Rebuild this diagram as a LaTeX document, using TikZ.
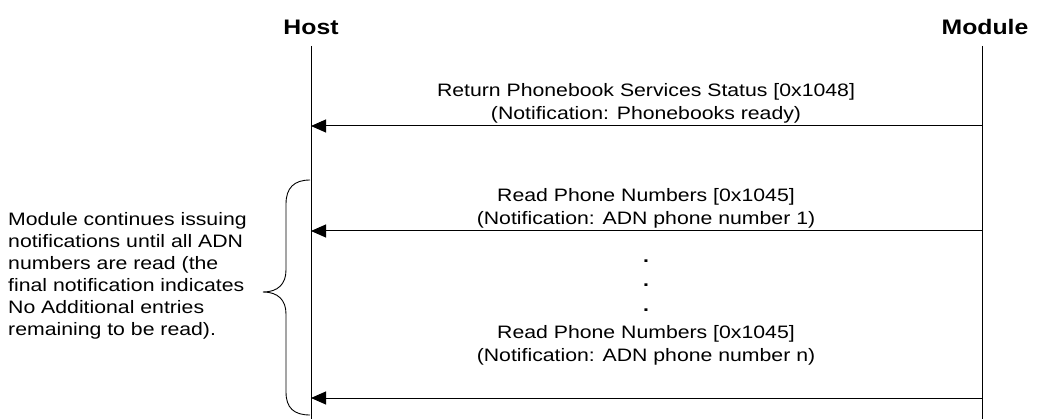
\documentclass[tikz,border=0pt]{standalone}
\usepackage{fontspec}
\setmainfont{Liberation Sans}[FakeStretch=1.18]
\usetikzlibrary{arrows.meta}
\tikzset{
  header/.style={font=\fontsize{21}{24}\selectfont\bfseries, inner sep=0pt},
  lifeline/.style={line width=1pt},
  msg/.style={line width=1pt, -{Triangle[length=15pt,width=13pt]}},
  msglabel/.style={font=\fontsize{18}{23}\selectfont, align=center, inner sep=0pt},
  dotmark/.style={font=\fontsize{18}{18}\selectfont\bfseries, inner sep=0pt, anchor=base},
  note/.style={font=\fontsize{18}{22}\selectfont, align=left, inner sep=0pt},
  bracepath/.style={line width=0.9pt}
}
\begin{document}
\begin{tikzpicture}[x=1pt, y=-1pt]
\useasboundingbox (0,0) rectangle (1046,419);

% participants
\node[header] (host) at (311,27) {Host};
\node[header] (module) at (985,27) {Module};

% lifelines
\coordinate (hostTop) at (311,46);
\coordinate (hostBot) at (311,419);
\coordinate (modTop) at (982,46);
\coordinate (modBot) at (982,419);
\draw[lifeline] (hostTop) -- (hostBot);
\draw[lifeline] (modTop) -- (modBot);

% message end points
\coordinate (m1) at (982,126); \coordinate (h1) at (311,126);
\coordinate (m2) at (982,231); \coordinate (h2) at (311,231);
\coordinate (m3) at (982,398); \coordinate (h3) at (311,398);

\draw[msg] (m1) -- (h1);
\draw[msg] (m2) -- (h2);
\draw[msg] (m3) -- (h3);

% message labels
\node[msglabel] (l1) at (646,103) {Return Phonebook Services Status [0x1048]\\(Notification: Phonebooks ready)};
\node[msglabel] (l2) at (646,208) {Read Phone Numbers [0x1045]\\(Notification: ADN phone number 1)};
\node[msglabel] (l3) at (646,345) {Read Phone Numbers [0x1045]\\(Notification: ADN phone number n)};

% continuation dots
\node[dotmark] (d1) at (646,263) {.};
\node[dotmark] (d2) at (646,287) {.};
\node[dotmark] (d3) at (646,312) {.};

% brace over the repeated notifications
\coordinate (braceTop) at (310,180);
\coordinate (braceTip) at (263,292);
\coordinate (braceBot) at (310,415);
\draw[bracepath] (braceTop) .. controls (294,180) and (286,188) .. (286,204)
  -- (286,270) .. controls (286,284) and (278,292) .. (braceTip)
  .. controls (278,292) and (286,300) .. (286,314)
  -- (286,392) .. controls (286,408) and (294,415) .. (braceBot);

% explanatory note
\node[note, anchor=west] (note) at (8,276) {Module continues issuing\\notifications until all ADN\\numbers are read (the\\final notification indicates\\No Additional entries\\remaining to be read).};
\end{tikzpicture}
\end{document}
